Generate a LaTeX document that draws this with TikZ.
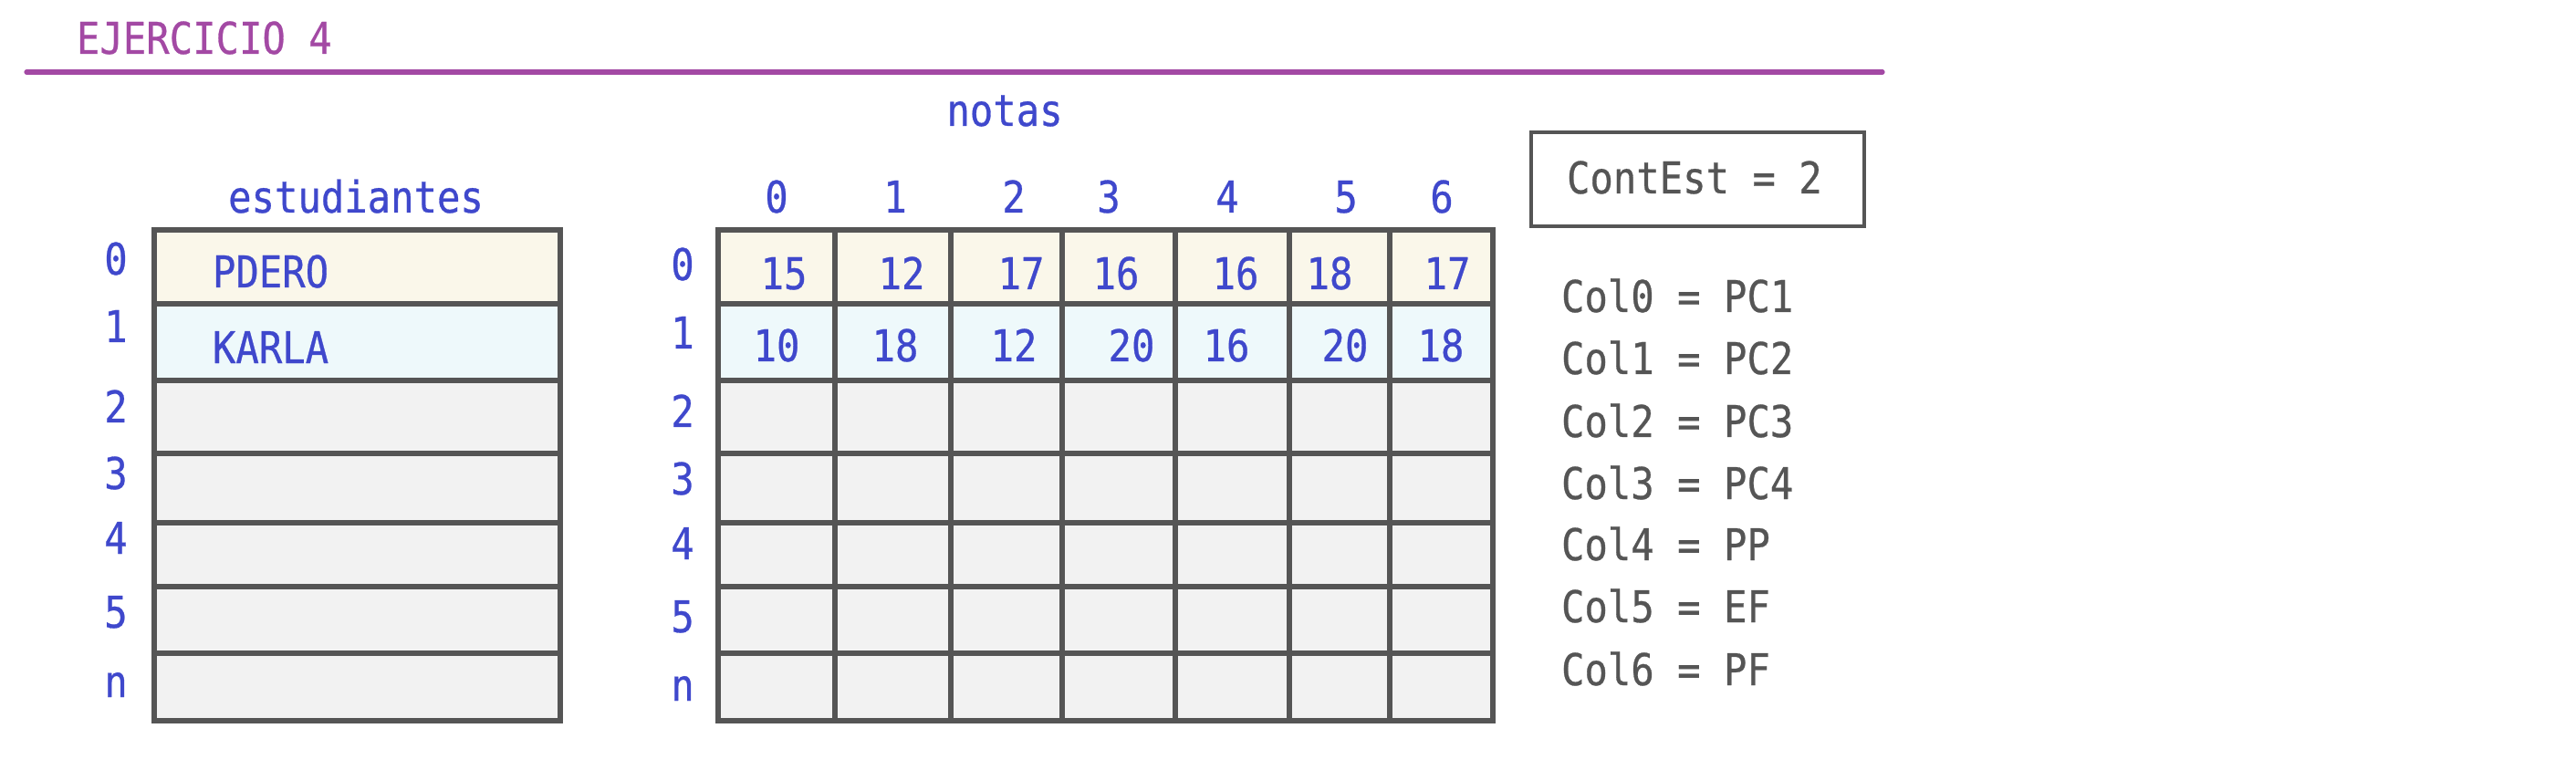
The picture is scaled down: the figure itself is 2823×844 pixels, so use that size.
\documentclass[tikz,border=0pt]{standalone}
\usepackage{fontspec}
\newfontfamily\monofont[FakeStretch=0.88,FakeBold=0.6]{DejaVu Sans Mono}
\definecolor{morado}{HTML}{A349A4}
\definecolor{azul}{HTML}{3F48CC}
\definecolor{borde}{HTML}{555555}
\definecolor{crema}{HTML}{FAF7EA}
\definecolor{celeste}{HTML}{EEF9FB}
\definecolor{vacio}{HTML}{F2F2F2}

\begin{document}
\begin{tikzpicture}[x=0.25pt,y=-0.25pt,
 every node/.style={inner sep=0pt,outer sep=0pt,
   font=\monofont\fontsize{12pt}{14pt}\selectfont},
 idx/.style={text=azul,anchor=base},
 nombre/.style={text=azul,anchor=base west},
 gristxt/.style={text=borde,anchor=base west},
 linea/.style={draw=borde,line width=1.4pt,line cap=rect}]

  \useasboundingbox (0,0) rectangle (2823,844);

  % titulo
  \node[text=morado,anchor=base west] (titulo) at (84,59) {EJERCICIO 4};
  \draw[morado,line width=1.3pt,line cap=round] (29,79) coordinate (ti) -- (2063,79) coordinate (td);

  % filas (colores de fondo)
  \foreach \ya/\yb/\c in {252/333/crema,333/417/celeste,417/497/vacio,
    497/573/vacio,573/643/vacio,643/716/vacio,716/790/vacio}
  {\fill[\c] (169,\ya) rectangle (614,\yb);
   \fill[\c] (787,\ya) rectangle (1636,\yb);}

  % vector estudiantes
  \node[idx] (estudiantes) at (390,233) {estudiantes};
  \foreach \y in {252,333,417,497,573,643,716,790}
   \draw[linea] (169,\y) -- (614,\y);
  \draw[linea] (169,252) -- (169,790) (614,252) -- (614,790);
  \foreach \i/\y in {0/301,1/375,2/463,3/536,4/607,5/688,n/764}
   \node[idx] (e\i) at (127,\y) {\i};
  \node[nombre] (pdero) at (233,315) {PDERO};
  \node[nombre] (karla) at (233,398) {KARLA};

  % matriz notas
  \node[idx] (notas) at (1101,138) {notas};
  \foreach \y in {252,333,417,497,573,643,716,790}
   \draw[linea] (787,\y) -- (1636,\y);
  \foreach \x in {787,915,1042,1164,1288,1413,1523,1636}
   \draw[linea] (\x,252) -- (\x,790);
  \foreach \j/\x in {0/851,1/981,2/1111,3/1215,4/1345,5/1475,6/1580}
   \node[idx] (c\j) at (\x,233) {\j};
  \foreach \i/\y in {0/307,1/382,2/468,3/542,4/613,5/693,n/768}
   \node[idx] (f\i) at (748,\y) {\i};
  \foreach \x/\v [count=\k from 0] in {859/15,988/12,1119/17,1223/16,1354/16,1457/18,1586/17}
   \node[idx] (a0\k) at (\x,317) {\v};
  \foreach \x/\v [count=\k from 0] in {851/10,981/18,1111/12,1240/20,1344/16,1474/20,1579/18}
   \node[idx] (a1\k) at (\x,396) {\v};

  % contador y leyenda
  \draw[borde,line width=1.2pt] (1678,145) rectangle (2043,248);
  \node[gristxt] (contest) at (1717,212) {ContEst = 2};
  \foreach \t/\y [count=\k from 0] in {PC1/342,PC2/410,PC3/479,PC4/547,PP/614,EF/682,PF/751}
   \node[gristxt] (col\k) at (1711,\y) {Col\k\ = \t};
\end{tikzpicture}
\end{document}
